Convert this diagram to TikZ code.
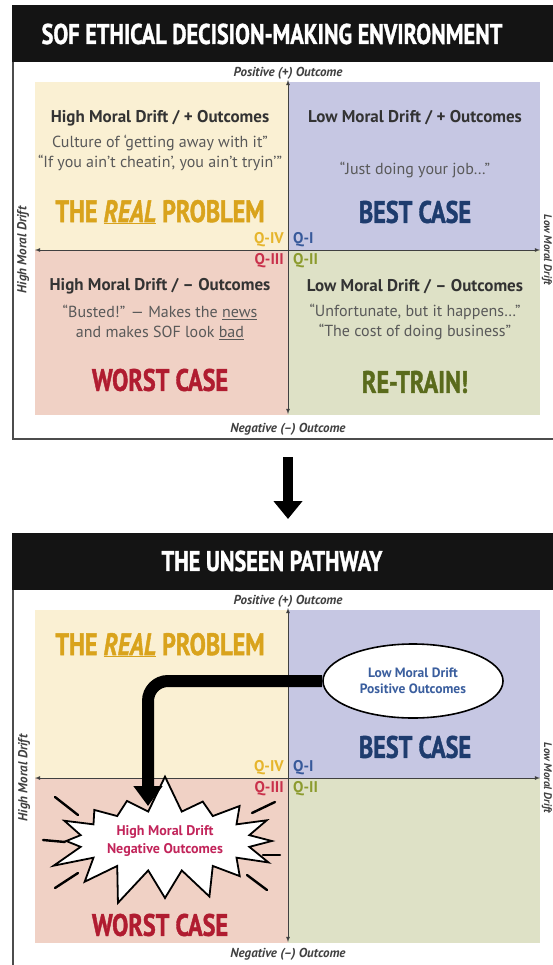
\documentclass[tikz,border=0pt]{standalone}
\usepackage{fontspec}
\setmainfont{PT Sans}
\newfontfamily\titrefont{PT Sans}[FakeStretch=0.78,FakeBold=1.2]
\usetikzlibrary{arrows.meta,shapes.geometric,shapes.symbols}

\definecolor{fondJaune}{HTML}{FAF0D3}
\definecolor{fondBleu}{HTML}{C6C7E3}
\definecolor{fondRose}{HTML}{F0D1C5}
\definecolor{fondVert}{HTML}{DEE1C6}
\definecolor{orProbleme}{HTML}{D9A31C}
\definecolor{bleuCas}{HTML}{1E3C6E}
\definecolor{rougeCas}{HTML}{B01C30}
\definecolor{vertCas}{HTML}{5A6B1C}
\definecolor{jauneQ}{HTML}{E6B52C}
\definecolor{bleuQ}{HTML}{37599A}
\definecolor{rougeQ}{HTML}{C9304B}
\definecolor{vertQ}{HTML}{8C9B2E}
\definecolor{bleuBulle}{HTML}{3A5E9E}
\definecolor{roseEclat}{HTML}{C2245A}

\begin{document}
\begin{tikzpicture}[x=1pt,y=-1pt]
			\tikzstyle{fleche}=[<->,>=latex,thick,draw=black!75]
			\tikzstyle{bandeau}=[fill=black!92]
			\tikzstyle{cadre}=[draw=black!70,line width=1.2pt]
			\tikzstyle{titre}=[text=white,font=\titrefont\bfseries\fontsize{28.5}{28.5}\selectfont]
			\tikzstyle{axe}=[text=black!75,font=\bfseries\itshape\fontsize{13}{13}\selectfont]
			\tikzstyle{bord}=[text=black!75,font=\bfseries\itshape\fontsize{11}{11}\selectfont,inner sep=0pt,rotate=-90]
			\tikzstyle{entete}=[text=black!80,font=\bfseries\fontsize{17}{17}\selectfont]
			\tikzstyle{citation}=[text=black!65,align=center,font=\fontsize{16}{20}\selectfont]
			\tikzstyle{verdict}=[font=\titrefont\bfseries\fontsize{31}{31}\selectfont]
			\tikzstyle{quadrant}=[font=\bfseries\fontsize{15.5}{15.5}\selectfont,inner sep=1pt]
			\tikzstyle{bulle}=[ellipse,draw,line width=1.6pt,fill=white,minimum width=180pt,minimum height=74pt,
				align=center,text=bleuBulle,font=\bfseries\fontsize{13.5}{16}\selectfont]
			\tikzstyle{eclat}=[starburst,starburst points=16,starburst point height=38pt,random starburst=7,
				draw,line width=1.8pt,fill=white,minimum width=248pt,minimum height=136pt,inner sep=1pt,
				align=center,text=roseEclat,font=\bfseries\fontsize{14}{18}\selectfont]
			\tikzstyle{rayon}=[line width=2.4pt,line cap=round]
			
			\useasboundingbox (0,0) rectangle (553,965);
			
			\def\DecalageA{0}
			\def\DecalageB{528}
			
			% premier panneau
			\fill[bandeau] (12,{5+\DecalageA}) rectangle (560,{62+\DecalageA});
			\draw[cadre] (13,{62+\DecalageA}) -- (13,{439+\DecalageA}) -- (560,{439+\DecalageA});
			\fill[fondJaune] (35,{82+\DecalageA}) rectangle (288,{250+\DecalageA});
			\fill[fondBleu] (288,{82+\DecalageA}) rectangle (540,{250+\DecalageA});
			\fill[fondRose] (35,{250+\DecalageA}) rectangle (288,{415+\DecalageA});
			\fill[fondVert] (288,{250+\DecalageA}) rectangle (540,{415+\DecalageA});
			
			\node[titre] (T1) at (272,{34+\DecalageA}) {SOF ETHICAL DECISION-MAKING ENVIRONMENT};
			\node[axe] (P1) at (288,{73+\DecalageA}) {Positive (+) Outcome};
			\node[axe] (N1) at (288,{429+\DecalageA}) {Negative (–) Outcome};
			\node[axe,rotate=90] (G1) at (23,{250+\DecalageA}) {High Moral Drift};
			\node[bord] (D1) at (547,{250+\DecalageA}) {Low Moral Drift};
			
			\coordinate (Ah1) at (288,{80+\DecalageA});
			\coordinate (Ab1) at (288,{414+\DecalageA});
			\coordinate (Ag1) at (35,{250+\DecalageA});
			\coordinate (Ad1) at (540,{250+\DecalageA});
			\draw[fleche] (Ab1)--(Ah1);
			\draw[fleche] (Ag1)--(Ad1);
			
			\node[quadrant,text=jauneQ,anchor=east] (Q4a) at (285,{240+\DecalageA}) {Q-IV};
			\node[quadrant,text=bleuQ,anchor=west] (Q1a) at (292,{240+\DecalageA}) {Q-I};
			\node[quadrant,text=rougeQ,anchor=east] (Q3a) at (285,{261+\DecalageA}) {Q-III};
			\node[quadrant,text=vertQ,anchor=west] (Q2a) at (292,{261+\DecalageA}) {Q-II};
			
			\node[entete] (E4) at (160,{118+\DecalageA}) {High Moral Drift / + Outcomes};
			\node[citation] (C4) at (160,{153+\DecalageA}) {Culture of ‘getting away with it”\\“If you ain’t cheatin’, you ain’t tryin’”};
			\node[verdict,text=orProbleme] (V4) at (160,{212+\DecalageA}) {THE \underline{\textit{REAL}} PROBLEM};
			
			\node[entete] (E1) at (415,{118+\DecalageA}) {Low Moral Drift / + Outcomes};
			\node[citation] (C1) at (415,{170+\DecalageA}) {“Just doing your job…”};
			\node[verdict,text=bleuCas] (V1) at (415,{212+\DecalageA}) {BEST CASE};
			
			\node[entete] (E3) at (160,{286+\DecalageA}) {High Moral Drift / – Outcomes};
			\node[citation] (C3) at (160,{322+\DecalageA}) {“Busted!” — Makes the \underline{news}\\and makes SOF look \underline{bad}};
			\node[verdict,text=rougeCas] (V3) at (160,{380+\DecalageA}) {WORST CASE};
			
			\node[entete] (E2) at (415,{287+\DecalageA}) {Low Moral Drift / – Outcomes};
			\node[citation] (C2) at (415,{322+\DecalageA}) {“Unfortunate, but it happens…”\\“The cost of doing business”};
			\node[verdict,text=vertCas] (V2) at (415,{382+\DecalageA}) {RE-TRAIN!};
			
			% passage
			\coordinate (Fa) at (288,457);
			\coordinate (Fb) at (288,519);
			\draw[line width=10pt,-{Triangle[width=28pt,length=18pt]}] (Fa)--(Fb);
			
			% second panneau
			\fill[bandeau] (12,{5+\DecalageB}) rectangle (560,{62+\DecalageB});
			\draw[cadre] (13,{62+\DecalageB}) -- (13,970);
			\fill[fondJaune] (35,{82+\DecalageB}) rectangle (288,{250+\DecalageB});
			\fill[fondBleu] (288,{82+\DecalageB}) rectangle (540,{250+\DecalageB});
			\fill[fondRose] (35,{250+\DecalageB}) rectangle (288,{415+\DecalageB});
			\fill[fondVert] (288,{250+\DecalageB}) rectangle (540,{415+\DecalageB});
			
			\node[titre] (T2) at (272,{33+\DecalageB}) {THE UNSEEN PATHWAY};
			\node[axe] (P2) at (288,{73+\DecalageB}) {Positive (+) Outcome};
			\node[axe] (N2) at (288,{426+\DecalageB}) {Negative (–) Outcome};
			\node[axe,rotate=90] (G2) at (24,{250+\DecalageB}) {High Moral Drift};
			\node[bord] (D2) at (547,{250+\DecalageB}) {Low Moral Drift};
			
			\coordinate (Ah2) at (288,{80+\DecalageB});
			\coordinate (Ab2) at (288,{414+\DecalageB});
			\coordinate (Ag2) at (35,{250+\DecalageB});
			\coordinate (Ad2) at (540,{250+\DecalageB});
			\draw[fleche] (Ab2)--(Ah2);
			\draw[fleche] (Ag2)--(Ad2);
			
			\node[quadrant,text=jauneQ,anchor=east] (Q4b) at (285,{240+\DecalageB}) {Q-IV};
			\node[quadrant,text=bleuQ,anchor=west] (Q1b) at (292,{240+\DecalageB}) {Q-I};
			\node[quadrant,text=rougeQ,anchor=east] (Q3b) at (285,{261+\DecalageB}) {Q-III};
			\node[quadrant,text=vertQ,anchor=west] (Q2b) at (292,{261+\DecalageB}) {Q-II};
			
			\node[verdict,text=orProbleme] (V4b) at (160,645) {THE \underline{\textit{REAL}} PROBLEM};
			\node[verdict,text=bleuCas] (V1b) at (415,747) {BEST CASE};
			\node[verdict,text=rougeCas] (V3b) at (160,925) {WORST CASE};
			
			\node[bulle] (haut) at (413,681) {Low Moral Drift\\Positive Outcomes};
			\node[eclat] (bas) at (165,841) {High Moral Drift\\Negative Outcomes};
			\coordinate (pointe) at (148,806);
			\draw[line width=12pt,rounded corners=20pt,-{Triangle[width=28pt,length=20pt]}] (haut.west) -| (pointe);
			
			\draw[rayon] (55,797)--(78,815);
			\draw[rayon] (43,840)--(65,842);
			\draw[rayon] (55,888)--(78,873);
			\draw[rayon] (252,813)--(275,802);
			\draw[rayon] (263,855)--(280,855);
			\draw[rayon] (247,875)--(267,890);
		\end{tikzpicture}
\end{document}
